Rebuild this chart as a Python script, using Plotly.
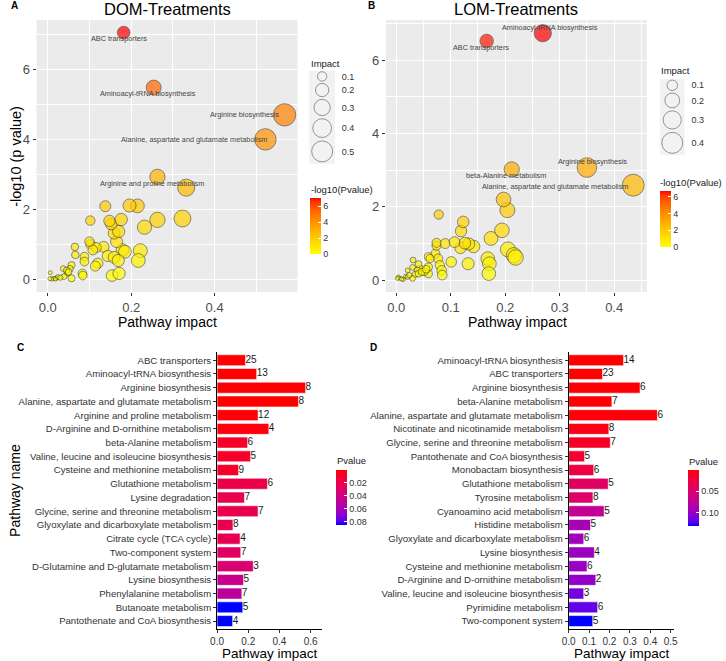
import plotly.graph_objects as go

W, H = 726, 661
FONT = "Liberation Sans, Arial, sans-serif"

# ---------------- DATA ----------------
# DOM: pathways with p < 0.1 (shown in panel C, in this order)
dom_sig_names = [
    "ABC transporters", "Aminoacyl-tRNA biosynthesis", "Arginine biosynthesis",
    "Alanine, aspartate and glutamate metabolism", "Arginine and proline metabolism",
    "D-Arginine and D-ornithine metabolism", "beta-Alanine metabolism",
    "Valine, leucine and isoleucine biosynthesis", "Cysteine and methionine metabolism",
    "Glutathione metabolism", "Lysine degradation", "Glycine, serine and threonine metabolism",
    "Glyoxylate and dicarboxylate metabolism", "Citrate cycle (TCA cycle)", "Two-component system",
    "D-Glutamine and D-glutamate metabolism", "Lysine biosynthesis", "Phenylalanine metabolism",
    "Butanoate metabolism", "Pantothenate and CoA biosynthesis"]
dom_sig_impact = [0.182, 0.254, 0.568, 0.522, 0.263, 0.332, 0.196, 0.215, 0.138, 0.323,
                  0.176, 0.263, 0.102, 0.148, 0.152, 0.232, 0.170, 0.159, 0.165, 0.100]
dom_sig_logp = [7.04, 5.47, 4.69, 3.99, 2.92, 2.61, 2.10, 2.09, 2.08, 1.73,
                1.70, 1.69, 1.67, 1.66, 1.57, 1.48, 1.36, 1.31, 1.07, 1.07]
dom_sig_hits = [25, 13, 8, 8, 12, 4, 6, 5, 9, 6, 7, 7, 8, 4, 7, 3, 5, 7, 5, 4]
# DOM: remaining (unlabelled) pathways
dom_other_impact = [0.1025, 0.065, 0.134, 0.116, 0.108, 0.179, 0.185, 0.222, 0.066, 0.144,
                    0.088, 0.159, 0.088, 0.169, 0.217, 0.120, 0.114, 0.057, 0.037, 0.053,
                    0.047, 0.083, 0.084, 0.154, 0.171, 0.039, 0.057, 0.006, 0.021, 0.014,
                    0.010, 0.024, 0.030, 0.005, 0.045, 0.050, 0.018, 0.000]
dom_other_logp = [0.99, 0.92, 0.92, 0.90, 0.83, 0.83, 0.78, 0.81, 0.69, 0.66,
                  0.64, 0.62, 0.50, 0.53, 0.53, 0.45, 0.37, 0.40, 0.30, 0.29,
                  0.18, 0.16, 0.10, 0.10, 0.16, 0.07, 0.02, 0.18, 0.03, 0.02,
                  0.00, 0.06, 0.04, 0.01, 0.25, 0.20, 0.00, 0.00]

# LOM: pathways shown in panel D, in this order
lom_sig_names = [
    "Aminoacyl-tRNA biosynthesis", "ABC transporters", "Arginine biosynthesis",
    "beta-Alanine metabolism", "Alanine, aspartate and glutamate metabolism",
    "Nicotinate and nicotinamide metabolism", "Glycine, serine and threonine metabolism",
    "Pantothenate and CoA biosynthesis", "Monobactam biosynthesis", "Glutathione metabolism",
    "Tyrosine metabolism", "Cyanoamino acid metabolism", "Histidine metabolism",
    "Glyoxylate and dicarboxylate metabolism", "Lysine biosynthesis",
    "Cysteine and methionine metabolism", "D-Arginine and D-ornithine metabolism",
    "Valine, leucine and isoleucine biosynthesis", "Pyrimidine metabolism", "Two-component system"]
lom_sig_impact = [0.269, 0.166, 0.350, 0.212, 0.435, 0.197, 0.204, 0.078, 0.123, 0.194,
                  0.119, 0.174, 0.107, 0.074, 0.126, 0.090, 0.133, 0.074, 0.142, 0.118]
lom_sig_logp = [6.73, 6.52, 3.07, 3.02, 2.59, 2.20, 1.91, 1.79, 1.59, 1.36,
                1.34, 1.14, 1.04, 1.02, 1.01, 1.00, 0.99, 0.94, 0.92, 0.88]
lom_sig_hits = [14, 23, 6, 7, 6, 8, 7, 5, 6, 5, 8, 5, 5, 6, 4, 6, 2, 3, 6, 5]
lom_other_impact = [0.205, 0.216, 0.219, 0.168, 0.171, 0.170, 0.101, 0.132, 0.072, 0.077,
                    0.080, 0.0835, 0.0845, 0.059, 0.062, 0.059, 0.044, 0.059, 0.052, 0.031,
                    0.030, 0.039, 0.035, 0.041, 0.021, 0.0175, 0.030, 0.021, 0.004, 0.007,
                    0.013, 0.024, 0.047, 0.010, 0.002, 0.041, 0.055]
lom_other_logp = [0.84, 0.68, 0.62, 0.59, 0.45, 0.18, 0.50, 0.45, 0.73, 0.59,
                  0.41, 0.27, 0.14, 0.64, 0.59, 0.18, 0.32, 0.36, 0.23, 0.55,
                  0.35, 0.27, 0.16, 0.18, 0.27, 0.11, 0.05, 0.09, 0.09, 0.05,
                  0.02, 0.14, 0.23, 0.03, 0.05, 0.44, 0.30]

dom_labelled = ["ABC transporters", "Aminoacyl-tRNA biosynthesis", "Arginine biosynthesis",
                "Alanine, aspartate and glutamate metabolism", "Arginine and proline metabolism"]
lom_labelled = ["ABC transporters", "Aminoacyl-tRNA biosynthesis", "Arginine biosynthesis",
                "beta-Alanine metabolism", "Alanine, aspartate and glutamate metabolism"]

size_legend_A = [0.1, 0.2, 0.3, 0.4, 0.5]
size_legend_B = [0.1, 0.2, 0.3, 0.4]
pvalue_ticks_C = [0.02, 0.04, 0.06, 0.08]
pvalue_ticks_D = [0.05, 0.10]

# ---------------- STYLE ----------------
dom_label_style = {
    "ABC transporters": ("center", -5, -6),
    "Aminoacyl-tRNA biosynthesis": ("center", -6, -6),
    "Arginine biosynthesis": ("right", -4, 0),
    "Alanine, aspartate and glutamate metabolism": ("right", 4, 0),
    "Arginine and proline metabolism": ("center", -5, -7),
}
lom_label_style = {
    "ABC transporters": ("center", -6, -7),
    "Aminoacyl-tRNA biosynthesis": ("center", 7, 6),
    "Arginine biosynthesis": ("center", 6, 6),
    "beta-Alanine metabolism": ("center", -6, -6),
    "Alanine, aspartate and glutamate metabolism": ("right", -3, -1),
}


def _lin(c):
    c = c / 255
    return c / 12.92 if c <= 0.04045 else ((c + 0.055) / 1.055) ** 2.4


def _delin(c):
    c = max(0.0, c)
    c = 12.92 * c if c <= 0.0031308 else 1.055 * c ** (1 / 2.4) - 0.055
    return int(max(0, min(255, round(c * 255))))


WP = (0.95047, 1.0, 1.08883)


def rgb2lab(rgb):
    r, g, b = [_lin(v) for v in rgb]
    X = 0.4124564 * r + 0.3575761 * g + 0.1804375 * b
    Y = 0.2126729 * r + 0.7151522 * g + 0.0721750 * b
    Z = 0.0193339 * r + 0.1191920 * g + 0.9503041 * b

    def f(t):
        return t ** (1 / 3) if t > 216 / 24389 else (24389 / 27 * t + 16) / 116
    fx, fy, fz = f(X / WP[0]), f(Y / WP[1]), f(Z / WP[2])
    return (116 * fy - 16, 500 * (fx - fy), 200 * (fy - fz))


def lab2rgb(lab):
    L, a, b = lab
    fy = (L + 16) / 116
    fx = fy + a / 500
    fz = fy - b / 200

    def finv(t):
        return t ** 3 if t ** 3 > 216 / 24389 else (116 * t - 16) / (24389 / 27)
    X, Y, Z = finv(fx) * WP[0], finv(fy) * WP[1], finv(fz) * WP[2]
    r = 3.2404542 * X - 1.5371385 * Y - 0.4985314 * Z
    g = -0.9692660 * X + 1.8760108 * Y + 0.0415560 * Z
    bb = 0.0556434 * X - 0.2040259 * Y + 1.0572252 * Z
    return f"rgb({_delin(r)},{_delin(g)},{_delin(bb)})"


def lab_scale(c0, c1, n=15):
    l0, l1 = rgb2lab(c0), rgb2lab(c1)
    out = []
    for i in range(n):
        t = i / (n - 1)
        out.append([t, lab2rgb(tuple(l0[k] + (l1[k] - l0[k]) * t for k in range(3)))])
    return out


YR = lab_scale((255, 255, 0), (255, 0, 0))
# blue (high p) -> red (low p); applied to negated p so the bar shows red on top
BR = lab_scale((0, 0, 255), (255, 0, 0))


def PX(x):
    return x / W


def PY(y):
    return 1 - y / H


SREF_A = 2 * 0.5 / 21 ** 2
SREF_B = 2 * 0.4 / 21 ** 2

fig = go.Figure()

cb_common = dict(xanchor="left", xpad=0, yanchor="top", ypad=0, lenmode="pixels",
                 thicknessmode="pixels", thickness=11, outlinewidth=0, ticks="inside",
                 ticklen=3, tickcolor="white", tickfont=dict(size=9, color="#333", family=FONT))

# ---------- Panel A scatter ----------
a_imp = dom_other_impact + dom_sig_impact[::-1]
a_lp = dom_other_logp + dom_sig_logp[::-1]
fig.add_trace(go.Scatter(
    x=a_imp, y=a_lp, mode="markers", xaxis="x", yaxis="y", showlegend=False, hoverinfo="skip",
    marker=dict(size=a_imp, sizemode="area", sizeref=SREF_A, sizemin=2, color=a_lp,
                colorscale=YR, cmin=0, cmax=max(a_lp),
                line=dict(color="#222", width=0.7),
                colorbar=dict(x=PX(307.7), y=PY(198), len=56, tickvals=[0, 2, 4, 6], **cb_common))))

# ---------- Panel B scatter ----------
b_imp = lom_other_impact + lom_sig_impact[::-1]
b_lp = lom_other_logp + lom_sig_logp[::-1]
fig.add_trace(go.Scatter(
    x=b_imp, y=b_lp, mode="markers", xaxis="x2", yaxis="y2", showlegend=False, hoverinfo="skip",
    marker=dict(size=b_imp, sizemode="area", sizeref=SREF_B, sizemin=2, color=b_lp,
                colorscale=YR, cmin=0, cmax=max(b_lp),
                line=dict(color="#222", width=0.7),
                colorbar=dict(x=PX(663), y=PY(190.7), len=55.5, tickvals=[0, 2, 4, 6], **cb_common))))

# ---------- Panel C bars ----------
c_negp = [-(10 ** (-v)) for v in dom_sig_logp]
fig.add_trace(go.Bar(
    orientation="h", x=dom_sig_impact, y=dom_sig_names, xaxis="x3", yaxis="y3",
    showlegend=False, hoverinfo="skip",
    marker=dict(color=c_negp, colorscale=BR, cmin=min(c_negp), cmax=max(c_negp),
                line=dict(color="rgba(255,255,255,0.7)", width=0.8),
                colorbar=dict(x=PX(334.3), y=PY(470), len=55,
                              tickvals=[-t for t in pvalue_ticks_C],
                              ticktext=[f"{t:.2f}" for t in pvalue_ticks_C], **cb_common))))
fig.add_trace(go.Scatter(
    x=dom_sig_impact, y=dom_sig_names, text=[str(h) for h in dom_sig_hits], mode="text",
    textposition="middle right", textfont=dict(size=10, color="#1a1a1a", family=FONT),
    xaxis="x3", yaxis="y3", showlegend=False, cliponaxis=False, hoverinfo="skip"))

# ---------- Panel D bars ----------
d_negp = [-(10 ** (-v)) for v in lom_sig_logp]
fig.add_trace(go.Bar(
    orientation="h", x=lom_sig_impact, y=lom_sig_names, xaxis="x4", yaxis="y4",
    showlegend=False, hoverinfo="skip",
    marker=dict(color=d_negp, colorscale=BR, cmin=min(d_negp), cmax=max(d_negp),
                line=dict(color="rgba(255,255,255,0.7)", width=0.8),
                colorbar=dict(x=PX(691.3), y=PY(470), len=56,
                              tickvals=[-t for t in pvalue_ticks_D],
                              ticktext=[f"{t:.2f}" for t in pvalue_ticks_D], **cb_common))))
fig.add_trace(go.Scatter(
    x=lom_sig_impact, y=lom_sig_names, text=[str(h) for h in lom_sig_hits], mode="text",
    textposition="middle right", textfont=dict(size=10, color="#1a1a1a", family=FONT),
    xaxis="x4", yaxis="y4", showlegend=False, cliponaxis=False, hoverinfo="skip"))


# ---------- size legends ----------
def legend_layout(vals, sref):
    diam = [(2 * v / sref) ** 0.5 for v in vals]
    hts = [1.13 * d + 0.8 for d in diam]
    centers, acc = [], 0.0
    for h in hts:
        centers.append(acc + h / 2)
        acc += h
    return centers, acc


cA, totA = legend_layout(size_legend_A, SREF_A)
cB, totB = legend_layout(size_legend_B, SREF_B)
fig.add_trace(go.Scatter(
    x=[0] * len(size_legend_A), y=cA, mode="markers", xaxis="x5", yaxis="y5",
    showlegend=False, hoverinfo="skip", cliponaxis=False,
    marker=dict(size=size_legend_A, sizemode="area", sizeref=SREF_A,
                color="rgba(0,0,0,0)", line=dict(color="#333", width=0.7))))
fig.add_trace(go.Scatter(
    x=[0] * len(size_legend_B), y=cB, mode="markers", xaxis="x6", yaxis="y6",
    showlegend=False, hoverinfo="skip", cliponaxis=False,
    marker=dict(size=size_legend_B, sizemode="area", sizeref=SREF_B,
                color="rgba(0,0,0,0)", line=dict(color="#333", width=0.7))))

# ---------- axes ----------
tickA = dict(ticks="outside", ticklen=3, tickcolor="#333", tickwidth=1,
             tickfont=dict(size=13, color="#4D4D4D", family=FONT), zeroline=False,
             showgrid=True, gridcolor="white", gridwidth=1.1, showline=False)
minor_grid = dict(showgrid=True, gridcolor="white", gridwidth=0.5, ticklen=0)
bar_ax = dict(ticks="outside", ticklen=3, tickcolor="#333", tickwidth=1, showline=True,
              linecolor="black", linewidth=1, showgrid=False, zeroline=False)

layout = dict(
    width=W, height=H, autosize=False, margin=dict(l=0, r=0, t=0, b=0),
    paper_bgcolor="white", plot_bgcolor="rgba(0,0,0,0)", bargap=0.2,
    font=dict(family=FONT, color="#333"), showlegend=False,
    xaxis=dict(domain=[PX(30), PX(295)], anchor="y", range=[-0.027, 0.599],
               tick0=0, dtick=0.2, tickformat=".1f", minor=dict(dtick=0.1, **minor_grid), **tickA),
    yaxis=dict(domain=[PY(292), PY(20)], anchor="x", range=[-0.37, 7.4],
               tick0=0, dtick=2, minor=dict(dtick=1, **minor_grid), **tickA),
    xaxis2=dict(domain=[PX(384.7), PX(649.7)], anchor="y2", range=[-0.019, 0.46],
                tick0=0, dtick=0.1, tickformat=".1f", minor=dict(dtick=0.05, **minor_grid), **tickA),
    yaxis2=dict(domain=[PY(292), PY(20)], anchor="x2", range=[-0.32, 7.09],
                tick0=0, dtick=2, minor=dict(dtick=1, **minor_grid), **tickA),
    xaxis3=dict(domain=[PX(213.3), PX(320)], anchor="y3", range=[0, 0.674], tick0=0, dtick=0.2,
                tickformat=".1f", tickfont=dict(size=10, color="#333", family=FONT), **bar_ax),
    yaxis3=dict(domain=[PY(629.3), PY(352)], anchor="x3", type="category",
                categoryorder="array", categoryarray=dom_sig_names, range=[19.6, -0.6],
                tickfont=dict(size=9.6, color="#333", family=FONT), **bar_ax),
    xaxis4=dict(domain=[PX(570.3), PX(677)], anchor="y4", range=[0, 0.515], tick0=0, dtick=0.1,
                tickformat=".1f", tickfont=dict(size=10, color="#333", family=FONT), **bar_ax),
    yaxis4=dict(domain=[PY(629.3), PY(352)], anchor="x4", type="category",
                categoryorder="array", categoryarray=lom_sig_names, range=[19.6, -0.6],
                tickfont=dict(size=9.6, color="#333", family=FONT), **bar_ax),
    xaxis5=dict(domain=[PX(307), PX(333)], anchor="y5", range=[-1, 1], showticklabels=False,
                showgrid=False, zeroline=False, ticks=""),
    yaxis5=dict(domain=[PY(70.7 + totA), PY(70.7)], anchor="x5", range=[totA, 0], side="right",
                tickvals=cA, ticktext=[str(v) for v in size_legend_A], ticks="outside",
                ticklen=4, tickcolor="rgba(0,0,0,0)", showgrid=False, zeroline=False,
                tickfont=dict(size=9, color="#333", family=FONT)),
    xaxis6=dict(domain=[PX(663), PX(688)], anchor="y6", range=[-1, 1], showticklabels=False,
                showgrid=False, zeroline=False, ticks=""),
    yaxis6=dict(domain=[PY(79 + totB), PY(79)], anchor="x6", range=[totB, 0], side="right",
                tickvals=cB, ticktext=[str(v) for v in size_legend_B], ticks="outside",
                ticklen=4, tickcolor="rgba(0,0,0,0)", showgrid=False, zeroline=False,
                tickfont=dict(size=9, color="#333", family=FONT)),
)

shapes = [
    dict(type="rect", xref="x domain", yref="y domain", x0=0, x1=1, y0=0, y1=1,
         fillcolor="#EBEBEB", line=dict(width=0), layer="below"),
    dict(type="rect", xref="x2 domain", yref="y2 domain", x0=0, x1=1, y0=0, y1=1,
         fillcolor="#EBEBEB", line=dict(width=0), layer="below"),
    dict(type="rect", xref="x5 domain", yref="y5 domain", x0=0, x1=1, y0=0, y1=1,
         fillcolor="#F2F2F2", line=dict(width=0), layer="below"),
    dict(type="rect", xref="x6 domain", yref="y6 domain", x0=0, x1=1, y0=0, y1=1,
         fillcolor="#F2F2F2", line=dict(width=0), layer="below"),
]

ann = []


def text_ann(x, y, text, size, color="black", xanchor="center", yanchor="middle", angle=0):
    ann.append(dict(x=PX(x), y=PY(y), xref="paper", yref="paper", text=text, showarrow=False,
                    xanchor=xanchor, yanchor=yanchor, textangle=angle,
                    font=dict(size=size, color=color, family=FONT)))


text_ann(163, 9, "DOM-Treatments", 16.5)
text_ann(517, 9, "LOM-Treatments", 16.5)
text_ann(163, 321.5, "Pathway impact", 14)
text_ann(518, 321.5, "Pathway impact", 14)
text_ann(9, 156, "-log10 (p value)", 14.5, angle=-90)
text_ann(267.5, 653.5, "Pathway impact", 13.5)
text_ann(624.3, 653.5, "Pathway impact", 13.5)
text_ann(8, 490, "Pathway name", 14, angle=-90)
text_ann(307, 63, "Impact", 9.5, color="#1a1a1a", xanchor="left")
text_ann(662, 71, "Impact", 9.5, color="#1a1a1a", xanchor="left")
text_ann(306.5, 190, "-log10(Pvalue)", 9.5, color="#1a1a1a", xanchor="left")
text_ann(661, 182.3, "-log10(Pvalue)", 9.5, color="#1a1a1a", xanchor="left")
text_ann(333.5, 460, "Pvalue", 9.5, color="#1a1a1a", xanchor="left")
text_ann(690.5, 461, "Pvalue", 9.5, color="#1a1a1a", xanchor="left")
text_ann(2, 6, "<b>A</b>", 10, xanchor="left")
text_ann(365, 6, "<b>B</b>", 10, xanchor="left")
text_ann(8, 347, "<b>C</b>", 10, xanchor="left")
text_ann(367, 347, "<b>D</b>", 10, xanchor="left")

for names, imps, lps, labs, style, xr, yr in [
        (dom_sig_names, dom_sig_impact, dom_sig_logp, dom_labelled, dom_label_style, "x", "y"),
        (lom_sig_names, lom_sig_impact, lom_sig_logp, lom_labelled, lom_label_style, "x2", "y2")]:
    for nm in labs:
        i = names.index(nm)
        xa, xs, ys = style[nm]
        ann.append(dict(x=imps[i], y=lps[i], xref=xr, yref=yr, text=nm, showarrow=False,
                        xanchor=xa, yanchor="middle", xshift=xs, yshift=ys,
                        font=dict(size=7.3, color="#444", family=FONT)))

layout["shapes"] = shapes
layout["annotations"] = ann
fig.update_layout(**layout)
fig.write_html("out.html", config={"displayModeBar": False},
               post_script="document.body.style.margin='0px';document.body.style.overflow='hidden';")
